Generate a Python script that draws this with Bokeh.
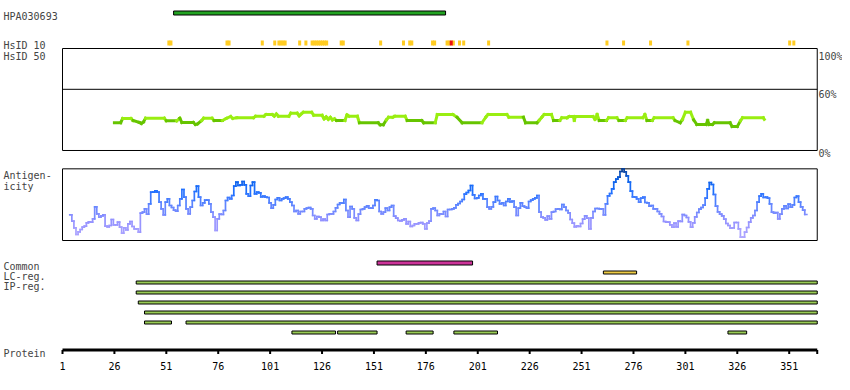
from bokeh.plotting import figure
from bokeh.models import Range1d, ColumnDataSource, Label
from bokeh.core.properties import value
from bokeh.embed import file_html
from bokeh.resources import INLINE

# ---------------- data ----------------
PROTEIN_LENGTH = 364
TICKS = [1, 26, 51, 76, 101, 126, 151, 176, 201, 226, 251, 276, 301, 326, 351]
TICK_LABELS = ["1", "26", "51", "76", "101", "126", "151", "176", "201", "226", "251",
               "276", "301", "326", "351"]

ANTIGEN_NAME = "HPA030693"
ANTIGEN_SPAN = [(55, 185)]

# residues with HsID 10 matches (yellow) and hit (red)
HSID10_MATCH = [52, 53, 80, 81, 97, 103, 105, 106, 107, 108, 115, 118, 121, 122, 123,
                124, 125, 126, 127, 128, 135, 136, 154, 165, 168, 169, 179, 180, 186,
                187, 189, 192, 194, 206, 263, 271, 284, 302, 351, 353]
HSID10_HIT = [188]

# HsID 50 identity trace (residue, percent)
HSID_RES = [26, 29, 30, 34, 35, 38, 39, 40, 41, 50, 51, 56, 57.5, 58.5, 64, 65, 66, 68, 69,
            73, 74, 78, 80, 82, 83, 85, 93, 94, 98, 99, 102, 103, 104, 105, 110, 111, 114,
            115, 116, 117, 121, 122, 126, 127, 128, 129, 130, 131, 132, 133, 137, 138, 139,
            143, 144, 153, 154, 155.5, 157, 158, 160, 161, 166, 167, 174, 175, 180.5, 181.5,
            189, 191, 193.5, 203, 205, 206, 215, 216, 223, 224, 229.5, 230.5, 232, 233,
            236.5, 237.5, 240.5, 241.5, 244, 245, 247, 247.5, 248, 256.5, 257.5, 258.5,
            259.5, 263, 264, 268, 269, 272, 273, 280.5, 281.5, 282.5, 285, 286, 295, 296,
            298.5, 299.5, 301, 303.5, 305, 306.5, 311, 311.7, 312.5, 314, 315, 322.5, 323.5,
            326, 327.5, 328.5, 338.5, 339]
HSID_PCT = [27.2, 27.2, 31.4, 31.4, 29.4, 27.5, 26.5, 28, 31.7, 31.7, 29.1, 29.1, 31.7, 27.5,
            27.5, 25.5, 26, 29.4, 31.7, 31.7, 29.4, 29.4, 31.5, 33.3, 31.5, 32.1, 32.1, 33.6,
            33.6, 35.3, 35.3, 33.6, 35.8, 33.6, 33.6, 36.6, 36.6, 34, 35.8, 37.5, 37.5, 34.6,
            34.6, 31, 33, 30.4, 32.6, 30, 31, 29.4, 29.4, 35, 33.6, 33.6, 27.2, 27.2, 25.2,
            25.2, 30, 32.6, 32.6, 33.6, 33.6, 29.4, 29.4, 27.2, 27.2, 35.3, 35.3, 32.6, 27.2,
            27.2, 33, 35.3, 35.3, 32.6, 32.6, 27.2, 27.2, 29.4, 33, 35.3, 35.3, 29.4, 29.4,
            32, 32, 33.3, 33.3, 29.4, 33.3, 33.3, 30.5, 35.3, 29.4, 29.4, 32, 32, 29.4, 29.4,
            32.1, 32.1, 35.3, 29.4, 29.4, 32.1, 32.1, 29.4, 27.2, 30, 37.5, 37.5, 30, 25.5,
            25.5, 29.4, 25.5, 25.5, 27.2, 27.2, 23.5, 23.5, 29, 32.1, 32.1, 30.5]
HSID_THRESHOLD = 30

# antigenicity score per residue, starting at residue 5 (0 = panel bottom, 215 = panel top)
ANTIGENICITY_FIRST = 5
ANTIGENICITY = [
    77, 58, 38, 18, 26, 33, 40, 43, 53, 56, 55, 65, 101, 80, 70, 74, 77, 43, 41, 45,
    63, 47, 47, 55, 40, 22, 38, 32, 50, 57, 42, 35, 35, 25, 82, 85, 95, 79, 110, 145,
    145, 149, 145, 115, 95, 77, 115, 125, 105, 99, 91, 88, 105, 125, 153, 130, 95, 80, 100, 120,
    147, 163, 130, 105, 113, 121, 121, 110, 85, 70, 30, 65, 79, 78, 90, 120, 129, 125, 135, 163,
    175, 165, 167, 177, 167, 140, 133, 165, 175, 140, 145, 143, 131, 133, 130, 129, 113, 97, 107, 123,
    128, 120, 125, 127, 130, 125, 115, 105, 87, 90, 80, 87, 87, 95, 97, 99, 95, 75, 65, 72,
    70, 60, 64, 60, 78, 80, 80, 87, 98, 108, 113, 112, 123, 90, 70, 102, 95, 68, 60, 79,
    93, 95, 100, 104, 97, 97, 105, 122, 120, 87, 80, 85, 97, 90, 100, 105, 73, 67, 60, 59,
    62, 65, 50, 57, 42, 45, 50, 50, 53, 54, 50, 35, 52, 58, 95, 97, 90, 75, 80, 79,
    87, 72, 93, 93, 95, 98, 107, 111, 117, 123, 139, 144, 150, 165, 137, 126, 128, 135, 140, 125,
    125, 100, 95, 101, 115, 132, 120, 110, 113, 105, 117, 125, 116, 118, 100, 75, 97, 113, 103, 100,
    97, 117, 121, 125, 128, 135, 85, 70, 68, 62, 73, 65, 85, 87, 94, 95, 93, 108, 100, 90,
    83, 63, 52, 41, 44, 42, 51, 64, 74, 67, 35, 68, 87, 96, 96, 95, 95, 77, 110, 134,
    141, 155, 175, 184, 190, 207, 215, 206, 194, 175, 148, 131, 130, 125, 115, 127, 130, 114, 113, 103,
    105, 95, 95, 87, 80, 72, 57, 55, 55, 47, 40, 52, 41, 58, 57, 78, 75, 69, 56, 40,
    53, 71, 84, 94, 99, 106, 127, 155, 174, 168, 138, 103, 86, 79, 74, 64, 51, 45, 37, 38,
    54, 54, 35, 10, 10, 25, 39, 55, 68, 75, 90, 115, 133, 140, 129, 130, 127, 110, 85, 82,
    84, 65, 79, 95, 104, 96, 109, 100, 107, 129, 133, 115, 101, 91, 78]
ANTIGENICITY_MAX = 215

COMMON = [(153, 198)]
LC_REG = [(262, 277)]
IP_REG_ROWS = [
    [(37, 364)],
    [(37, 364)],
    [(38, 364)],
    [(41, 364)],
    [(41, 53), (61, 364)],
    [(112, 132), (134, 152), (167, 179), (190, 210), (322, 330)],
]

LEFT_LABELS = ["HPA030693", "HsID 10", "HsID 50", "Antigen-", "icity",
               "Common", "LC-reg.", "IP-reg.", "Protein"]
PCT_LABELS = ["100%", "60%", "0%"]
PCT_VALUES = [100, 60, 0]

# ---------------- layout / style ----------------
FONT = "DejaVu Sans Mono"
FS = "10px"
W, H = 842, 374
K = 2.0763                       # px per residue
X0 = 1 - 62 / K                  # residue at the left edge of the canvas
X1 = 1 + (W - 62) / K            # residue at the right edge of the canvas
END = PROTEIN_LENGTH + 0.5

p = figure(width=W, height=H, x_range=Range1d(X0, X1), y_range=Range1d(H, 0),
           output_backend="svg", toolbar_location=None, x_axis_type=None,
           y_axis_type=None, min_border=0, title=None)
p.outline_line_color = None
p.background_fill_color = "white"
p.border_fill_color = "white"
# data ranges of the two panels (percent identity, antigenicity score)
p.extra_y_ranges = {"hsid": Range1d(-219.61, 147.06), "antigen": Range1d(-402, 720)}


def spans_to_quads(spans, top, bottom):
    return dict(left=[a - 0.5 for a, b in spans], right=[b + 0.5 for a, b in spans],
                top=[top] * len(spans), bottom=[bottom] * len(spans))


# antigen bar
p.quad(source=ColumnDataSource(spans_to_quads(ANTIGEN_SPAN, 10.5, 14.5)),
       fill_color="#22a322", line_color="black", line_width=1)

# HsID 10 ticks
TW = 1.45
p.quad(left=[r - 0.5 for r in HSID10_MATCH], right=[r - 0.5 + TW for r in HSID10_MATCH],
       top=40, bottom=45, fill_color="#ffcc22", line_color=None)
p.quad(left=[r - 0.5 for r in HSID10_HIT], right=[r - 0.5 + TW for r in HSID10_HIT],
       top=40, bottom=45, fill_color="#ee1111", line_color=None)

# HsID 50 panel
p.quad(left=[1], right=[END], bottom=[0], top=[100], fill_color=None,
       line_color="black", line_width=1, y_range_name="hsid")
p.segment(x0=[1], x1=[END], y0=[60], y1=[60], line_color="black", line_width=1,
          y_range_name="hsid")
hx0, hy0, hx1, hy1, hc = [], [], [], [], []
for i in range(len(HSID_RES) - 1):
    hx0.append(HSID_RES[i]); hx1.append(HSID_RES[i + 1])
    hy0.append(HSID_PCT[i]); hy1.append(HSID_PCT[i + 1])
    m = (HSID_PCT[i] + HSID_PCT[i + 1]) / 2
    hc.append("#99ee11" if m > HSID_THRESHOLD else "#66c400")
p.segment(source=ColumnDataSource(dict(x0=hx0, y0=hy0, x1=hx1, y1=hy1, c=hc)),
          x0="x0", y0="y0", x1="x1", y1="y1", line_color="c", line_width=3,
          line_cap="square", y_range_name="hsid")
XR = 1 + (818 - 62) / K
PCT_OFFSETS = [-8, -5, -3]       # screen offsets of the label baselines
for txt, v, off in zip(PCT_LABELS, PCT_VALUES, PCT_OFFSETS):
    p.add_layout(Label(x=XR, y=v, text=txt, y_range_name="hsid", text_font=FONT,
                       text_font_size=FS, text_align="left",
                       text_baseline="alphabetic", y_offset=off))

# antigenicity panel
p.quad(left=[1], right=[END], bottom=[0], top=[ANTIGENICITY_MAX], fill_color=None,
       line_color="black", line_width=1, y_range_name="antigen")

ANCH = [(0, (182, 172, 255)), (60, (148, 146, 255)), (110, (90, 132, 255)),
        (150, (30, 112, 255)), (185, (12, 96, 228)), (215, (12, 62, 140))]


def agcol(s):
    for (s0, c0), (s1, c1) in zip(ANCH, ANCH[1:]):
        if s <= s1:
            t = max(0.0, (s - s0) / (s1 - s0))
            c = [round(a + (b - a) * t) for a, b in zip(c0, c1)]
            return "#%02x%02x%02x" % tuple(c)
    return "#%02x%02x%02x" % ANCH[-1][1]


ax0, ay0, ax1, ay1, ac = [], [], [], [], []
n = len(ANTIGENICITY)
for i, s in enumerate(ANTIGENICITY):
    r = ANTIGENICITY_FIRST + i
    ax0.append(r - 0.5); ax1.append(r + 0.5); ay0.append(s); ay1.append(s); ac.append(agcol(s))
    if i < n - 1:
        s2 = ANTIGENICITY[i + 1]
        ax0.append(r + 0.5); ax1.append(r + 0.5); ay0.append(s); ay1.append(s2)
        ac.append(agcol((s + s2) / 2))
p.segment(source=ColumnDataSource(dict(x0=ax0, y0=ay0, x1=ax1, y1=ay1, c=ac)),
          x0="x0", y0="y0", x1="x1", y1="y1", line_color="c", line_width=1.7,
          line_cap="square", y_range_name="antigen")

# Common / LC-reg / IP-reg tracks
p.quad(source=ColumnDataSource(spans_to_quads(COMMON, 260.5, 264.5)),
       fill_color="#cc3399", line_color="black", line_width=1)
p.quad(source=ColumnDataSource(spans_to_quads(LC_REG, 270.5, 273.5)),
       fill_color="#eecc44", line_color="black", line_width=1)
for k, row in enumerate(IP_REG_ROWS):
    t = 280.5 + 10 * k
    p.quad(source=ColumnDataSource(spans_to_quads(row, t, t + 3)),
           fill_color="#99cc55", line_color="black", line_width=1)

# protein ruler (axis line, ticks and tick labels placed on the residue scale)
AXIS_Y = 349.5
p.segment(x0=[1], x1=[END], y0=[AXIS_Y], y1=[AXIS_Y], line_color="black", line_width=3)
p.segment(x0=TICKS + [END], x1=TICKS + [END], y0=AXIS_Y, y1=AXIS_Y + 4,
          line_color="black", line_width=2)
p.text(x=TICKS, y=[365] * len(TICKS), text=TICK_LABELS, text_font=value(FONT),
       text_font_size=FS, text_align="center", text_baseline="alphabetic",
       text_color="black")

# left labels
LABEL_BASE = [16, 45, 56, 175, 186, 266, 276, 286, 353]
XL = X0 + 3 / K
for txt, yb in zip(LEFT_LABELS, LABEL_BASE):
    p.add_layout(Label(x=XL, y=yb, text=txt, text_font=FONT, text_font_size=FS,
                       text_align="left", text_baseline="alphabetic"))

open("out.html", "w").write(file_html(p, INLINE))
